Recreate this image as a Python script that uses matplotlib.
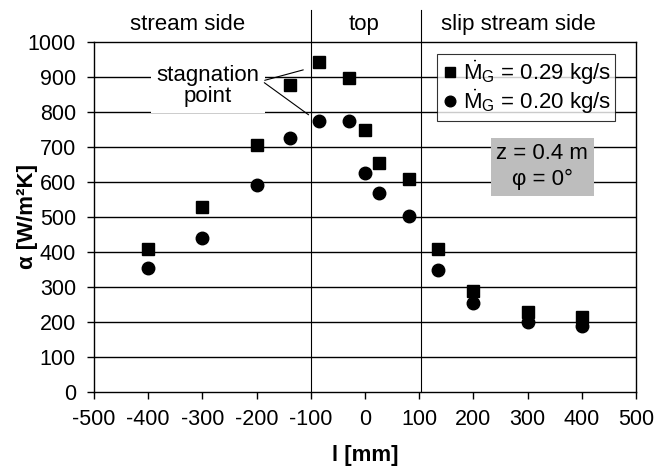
import matplotlib
matplotlib.use("Agg")
import matplotlib.pyplot as plt

plt.rcParams['font.family'] = ['Liberation Sans', 'DejaVu Sans']
plt.rcParams['mathtext.fontset'] = 'custom'
plt.rcParams['mathtext.rm'] = 'Liberation Sans'
plt.rcParams['mathtext.it'] = 'Liberation Sans:italic'
plt.rcParams['axes.unicode_minus'] = False

# data
l_mm = [-400, -300, -200, -138, -85, -29, 0, 25, 82, 135, 200, 300, 400]
alpha_029 = [407, 527, 705, 877, 942, 896, 749, 655, 607, 409, 287, 228, 215]
alpha_020 = [353, 441, 590, 726, 773, 773, 624, 568, 503, 347, 253, 199, 189]

regions = ["stream side", "top", "slip stream side"]
region_x = [-328, -2, 283]
dividers = [-100, 104]

fig = plt.figure(figsize=(6.67, 4.70), dpi=100)
ax = fig.add_axes([0.141, 0.166, 0.8125, 0.745])

# horizontal grid lines
for y in range(100, 1000, 100):
    ax.axhline(y, color='black', lw=1.0, zorder=1)

# region dividers, reaching up into the header
for d in dividers:
    ax.plot([d, d], [0, 1090], color='black', lw=0.8, clip_on=False, zorder=1)
for name, x in zip(regions, region_x):
    ax.text(x, 1050, name, ha='center', va='center', fontsize=16)

ax.plot(l_mm, alpha_029, 's', color='black', ms=9, zorder=3,
        label=r'$\dot{\mathrm{M}}_\mathrm{G}$ = 0.29 kg/s')
ax.plot(l_mm, alpha_020, 'o', color='black', ms=9, zorder=3,
        label=r'$\dot{\mathrm{M}}_\mathrm{G}$ = 0.20 kg/s')

# stagnation point note
ax.text(-290, 874, "stagnation\npoint", ha='center', va='center', fontsize=16,
        linespacing=1.0, zorder=2,
        bbox=dict(facecolor='white', edgecolor='none', pad=4))
ax.annotate("", xy=(-109, 922), xytext=(-190, 888),
            arrowprops=dict(arrowstyle='-', color='black', lw=0.8), zorder=2)
ax.annotate("", xy=(-100, 787), xytext=(-190, 888),
            arrowprops=dict(arrowstyle='-', color='black', lw=0.8), zorder=2)

# parameter box
ax.text(327, 643, "z = 0.4 m\nφ = 0°", ha='center', va='center', fontsize=16,
        linespacing=1.3, zorder=2,
        bbox=dict(facecolor='#bdbdbd', edgecolor='none', pad=4))

leg = ax.legend(loc='upper left', bbox_to_anchor=(0.633, 0.965), frameon=True,
                fancybox=False, edgecolor='black', fontsize=16,
                handletextpad=0.15, handlelength=0.8, borderpad=0.2,
                labelspacing=0.05, borderaxespad=0, markerscale=0.85)
leg.get_frame().set_linewidth(0.8)
leg.set_zorder(4)

ax.set_xlim(-500, 500)
ax.set_ylim(0, 1000)
ax.set_xticks(range(-500, 501, 100))
ax.set_yticks(range(0, 1001, 100))
ax.tick_params(direction='out', length=5, width=1, labelsize=15.5)
ax.tick_params(axis='y', pad=8)
ax.tick_params(axis='x', pad=7)
for s in ax.spines.values():
    s.set_linewidth(1.0)

ax.set_xlabel("l [mm]", fontsize=16, fontweight='bold')
ax.set_ylabel("α [W/m²K]", fontsize=16, fontweight='bold')
ax.xaxis.set_label_coords(0.5, -0.15)
ax.yaxis.set_label_coords(-0.103, 0.5)

fig.savefig("out.png", dpi=100)
